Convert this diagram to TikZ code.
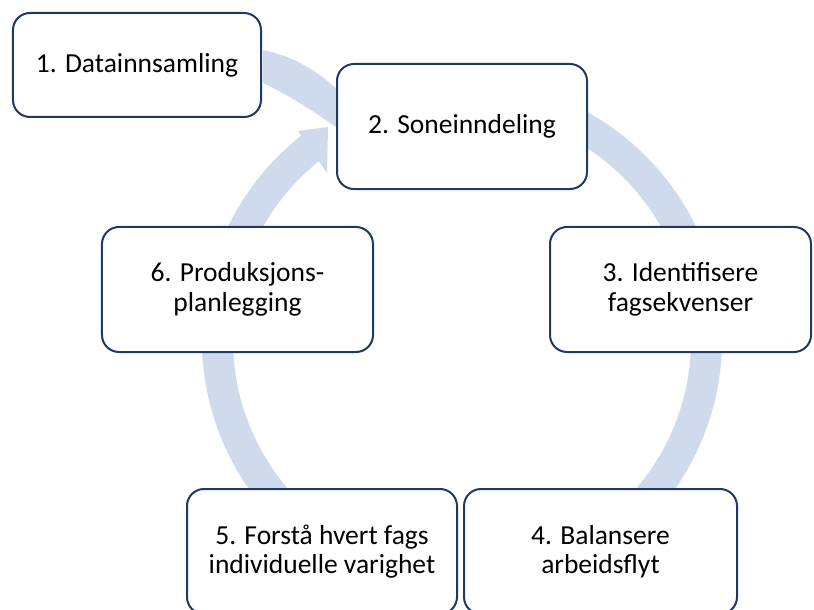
\documentclass[tikz,border=0pt]{standalone}
\usepackage{fontspec}
\setmainfont{Carlito}
\definecolor{ringblue}{RGB}{207,219,236}
\definecolor{boxline}{RGB}{31,56,100}
\begin{document}
\begin{tikzpicture}[x=1bp,y=-1bp,
  stage/.style={draw=boxline, line width=2bp, fill=white, rounded corners=17bp,
    align=center, inner sep=0pt, text=black,
    font=\fontsize{27.5bp}{29.5bp}\selectfont},
  ring/.style={draw=ringblue, line width=31bp}]
\useasboundingbox (0,0) rectangle (814,610);
\clip (0,0) rectangle (814,610);

% circular flow behind the stages
\coordinate (c) at (462,340);
\draw[ring] (c) ++(-80:244.5) arc[start angle=-80, end angle=75, radius=244.5];
\draw[ring] (c) ++(105:244.5) arc[start angle=105, end angle=233, radius=244.5];

% arrowhead entering stage 2
\coordinate (h1) at (298,131);
\coordinate (h2) at (328,127);
\coordinate (h3) at (327,173);
\fill[ringblue] (h1) -- (h2) -- (h3) -- cycle;

% curved band from stage 1 into stage 2
\coordinate (t1) at (263,50);
\coordinate (t2) at (337,89);
\coordinate (u2) at (337,128);
\coordinate (u1) at (263,83);
\fill[ringblue] (t1) .. controls (289.7,55.3) and (313.7,68) .. (t2)
  -- (u2) .. controls (309.7,108.3) and (285.7,93.7) .. (u1) -- cycle;

% stages
\node[stage, minimum width=248bp, minimum height=104bp] (b1) at (137,65) {1. Datainnsamling};
\node[stage, minimum width=250bp, minimum height=125bp] (b2) at (462,126.5) {2. Soneinndeling};
\node[stage, minimum width=261bp, minimum height=125bp] (b3) at (680.5,289.5) {3. Identifisere\\fagsekvenser};
\node[stage, minimum width=273bp, minimum height=125bp] (b4) at (600.5,551.5) {4. Balansere\\arbeidsflyt};
\node[stage, minimum width=270bp, minimum height=125bp] (b5) at (322,551.5) {5. Forstå hvert fags\\individuelle varighet};
\node[stage, minimum width=271bp, minimum height=125bp] (b6) at (237.5,289.5) {6. Produksjons-\\planlegging};
\end{tikzpicture}
\end{document}
